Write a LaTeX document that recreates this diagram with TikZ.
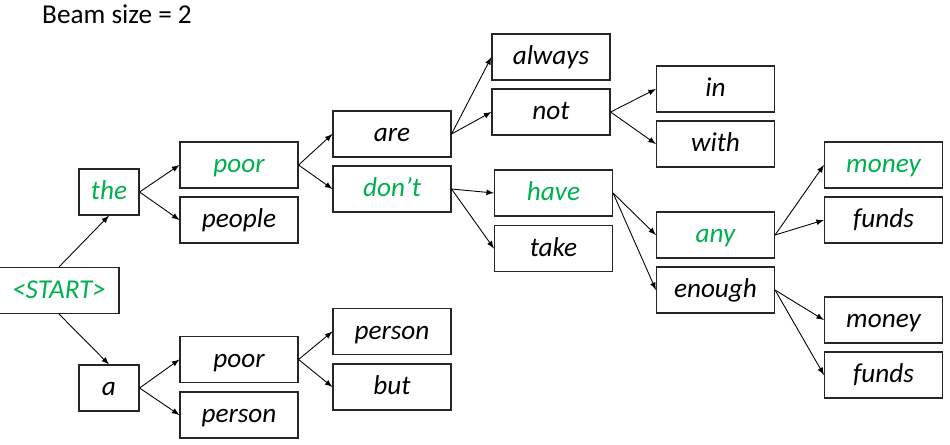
\documentclass[tikz,border=0pt]{standalone}
\usepackage{fontspec}
\setmainfont{Carlito}
\usepackage{tikz}
\definecolor{beamgreen}{RGB}{0,176,80}
\tikzset{every node/.style={font=\fontsize{15.5}{18}\selectfont\itshape},
  word/.style={draw=black!85,line width=0.65pt,minimum width=2.36cm,
    minimum height=0.92cm,inner sep=0pt,text height=2.2ex,text depth=0.3ex},
  short/.style={word,minimum width=1.2cm},
  kept/.style={text=beamgreen},
  edge/.style={-latex,line width=0.5pt}}

\begin{document}
\begin{tikzpicture}[x=0.02cm,y=-0.02cm]
\useasboundingbox (0,0) rectangle (950,444);
\node[anchor=base west,font=\fontsize{15.5}{18}\selectfont] (title) at (36,23) {Beam size = 2};
% first two steps
\node[word,minimum width=2.4cm,kept] (start) at (59,290.5) {<START>};
\node[short,kept] (the) at (109,192) {the};
\node[short] (a) at (109,388) {a};
\node[word,kept] (poorA) at (239,165) {poor};
\node[word] (people) at (239,220) {people};
\node[word] (poorB) at (239,359.5) {poor};
\node[word] (personA) at (239,415) {person};
% third and fourth steps
\node[word] (are) at (392,134) {are};
\node[word,kept] (dont) at (392,189) {don’t};
\node[word] (personB) at (392,331.5) {person};
\node[word] (but) at (392,387) {but};
\node[word] (always) at (551,57) {always};
\node[word] (not) at (551,112) {not};
\node[word,kept] (have) at (553.5,193) {have};
\node[word] (take) at (553.5,248.5) {take};
% last steps
\node[word] (in) at (715.5,89) {in};
\node[word] (with) at (715.5,144) {with};
\node[word,kept] (any) at (715.5,235) {any};
\node[word] (enough) at (715.5,290) {enough};
\node[word,kept] (moneyA) at (883.5,165) {money};
\node[word] (fundsA) at (883.5,220) {funds};
\node[word] (moneyB) at (883.5,320) {money};
\node[word] (fundsB) at (883.5,375) {funds};
\draw[edge] (start.north) -- (the.south);
\draw[edge] (start.south) -- (a.north);
\foreach \p/\c in {the/poorA,the/people,a/poorB,a/personA,
    poorA/are,poorA/dont,poorB/personB,poorB/but,
    are/always,are/not,dont/have,dont/take,
    not/in,not/with,have/any,have/enough,
    any/moneyA,any/fundsA,enough/moneyB,enough/fundsB}
  \draw[edge] (\p.east) -- (\c.west);
\end{tikzpicture}
\end{document}
